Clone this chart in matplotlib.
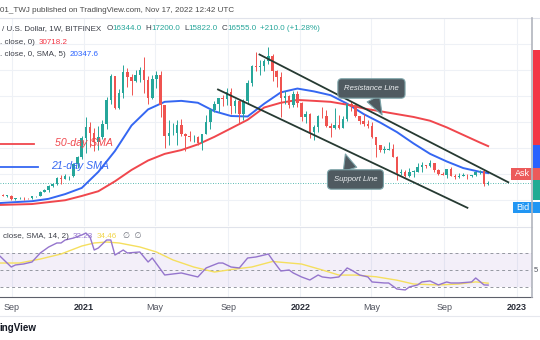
import numpy as np
import pandas as pd
import matplotlib
matplotlib.use("Agg")
import matplotlib.pyplot as plt
import matplotlib.dates as mdates
from matplotlib.patches import Rectangle
from matplotlib.lines import Line2D

plt.rcParams['font.family'] = ['Liberation Sans', 'DejaVu Sans']

# weekly BTC/USD candles, first week starts 2020-08-10
START_WEEK = "2020-08-10"
opens = [11890, 11900, 11650, 11700, 10250, 10670, 10930, 10780, 10670, 11370, 11500, 13030, 13770, 15480, 15980, 18400, 18180, 19170, 19250, 23720, 26450,
         34000, 38200, 35800, 32250, 34250, 39200, 48600, 57500, 45200, 51000, 59200, 57400, 55800, 58100, 60000, 56200, 49100, 56600, 58200, 46400, 34700, 35700, 35800, 39000, 35500, 34700, 34200, 34300, 31800, 35400, 39900, 44600, 47000, 49300, 48800, 51700, 46000, 48200, 42900, 48200, 55000, 61500, 61300, 61500, 63300, 65500, 59700, 57200, 49400, 50100, 46700, 50800,
         47300, 41800, 43100, 36300, 37900, 42400, 42200, 38300, 37700, 38800, 37800, 41300, 46800, 46400, 42200, 40400, 39400, 38500, 34300, 31300, 29400, 29400, 29800, 26600, 20500, 20800, 19300, 20800, 20800, 22600, 23300, 23200, 24300, 21500, 20000, 19800, 21800, 19400, 18800, 19300, 19400, 19200, 19600, 20800, 21200, 16344]
highs = [12090, 12480, 11800, 12090, 10770, 11180, 10990, 10950, 11500, 11720, 13350, 14100, 15960, 16490, 18800, 19480, 19900, 19420, 24250, 26900, 34800,
         41950, 40100, 37800, 38500, 40900, 49700, 58300, 57500, 52600, 61800, 60600, 58400, 60100, 61300, 64900, 57600, 58000, 59600, 59600, 46600, 40800, 39500, 40900, 41300, 35700, 36600, 35100, 34700, 35400, 42600, 45300, 48100, 49400, 50500, 52900, 52900, 48800, 48300, 49000, 56100, 62000, 67000, 63700, 64300, 69000, 66300, 59900, 59200, 51900, 50500, 51900, 52100,
         47500, 44400, 43500, 38900, 42600, 45800, 44700, 39800, 45400, 42600, 42300, 46900, 48200, 47000, 42400, 42900, 40800, 40000, 34300, 31300, 30600, 32200, 31500, 26800, 21800, 21400, 22400, 21600, 24200, 24600, 23600, 25200, 24400, 21800, 20600, 21800, 22700, 19900, 20400, 20500, 19900, 19700, 21100, 21500, 21500, 17200]
lows = [11150, 11380, 11120, 9880, 9880, 10200, 10140, 10370, 10530, 11230, 11420, 12980, 13200, 14850, 15800, 16200, 18100, 17600, 19000, 22300, 25900,
        28200, 30400, 28900, 29200, 33400, 37400, 47100, 44900, 45000, 49300, 53300, 50500, 55500, 55500, 51300, 47000, 48700, 52900, 42000, 30000, 31200, 34900, 31000, 34800, 28800, 32700, 32200, 31100, 29300, 35200, 37500, 43800, 43900, 46300, 46700, 43000, 43500, 39600, 40700, 46900, 53900, 59500, 58000, 59500, 62300, 55700, 53500, 42000, 46900, 45500, 45600, 45700,
        40500, 39600, 34000, 32900, 36200, 41700, 37900, 34300, 37500, 37200, 37600, 40500, 44200, 42100, 39200, 38500, 37700, 33700, 26700, 28600, 28000, 29300, 26600, 17600, 19700, 18700, 19000, 18900, 20700, 20700, 22400, 22700, 20900, 19800, 19600, 18600, 19300, 18100, 18500, 19100, 18200, 18900, 19300, 20100, 15500, 15822]
closes = [11900, 11650, 11700, 10250, 10670, 10930, 10780, 10670, 11370, 11500, 13030, 13770, 15480, 15980, 18400, 18180, 19170, 19250, 23720, 26450, 34000,
          38200, 35800, 32250, 34250, 39200, 48600, 57500, 45200, 51000, 59200, 57400, 55800, 58100, 60000, 56200, 49100, 56600, 58200, 46400, 34700, 35700, 35800, 39000, 35500, 34700, 34200, 34300, 31800, 35400, 39900, 44600, 47000, 49300, 48800, 51700, 46000, 48200, 42900, 48200, 55000, 61500, 61300, 61500, 63300, 65500, 59700, 57200, 49400, 50100, 46700, 50800, 47300,
          41800, 43100, 36300, 37900, 42400, 42200, 38300, 37700, 38800, 37800, 41300, 46800, 46400, 42200, 40400, 39400, 38500, 34300, 31300, 29400, 29400, 29800, 26600, 20500, 20800, 19300, 20800, 20800, 22600, 23300, 23200, 24300, 21500, 20000, 19800, 21800, 19400, 18800, 19300, 19400, 19200, 19600, 20800, 21200, 16344, 16555]
last_price = 16555

# moving averages, at candle indices
sma_weeks = [0, 4, 8, 12, 16, 20, 24, 28, 32, 36, 40, 44, 48, 52, 56, 60, 64, 68, 72, 76, 80, 84, 88, 92, 96, 100, 104, 108, 112, 116, 118]
sma21 = [8800, 9180, 9540, 10450, 12270, 14640, 20830, 28840, 38660, 44850, 47760, 48130, 47400, 44120, 42300, 42120, 47040, 51400, 52860, 51770, 50310, 47040, 43030, 39760, 36120, 31750, 27740, 24830, 22280, 20830, 20348]
sma50 = [8090, 8270, 8450, 9180, 9910, 11550, 13370, 17190, 21560, 25200, 27740, 29200, 31380, 34300, 37570, 40850, 45580, 47400, 48490, 48130, 47760, 46670, 45220, 44120, 43030, 41940, 40480, 37940, 35020, 32110, 30718]

# RSI panel
rsi_weeks = [0, 3, 4, 6, 8, 10, 12, 14, 15, 16, 18, 20, 21, 22, 23, 24, 26, 27, 28, 30, 31, 34, 36, 37, 40, 42, 44, 45, 48, 50, 53, 54, 56, 58, 60, 62, 65, 66, 68, 70, 71, 73, 75, 77, 78, 80, 82, 84, 85, 87, 89, 90, 93, 94, 96, 98, 99, 101, 102, 104, 106, 108, 109, 111, 114, 115, 117, 118]
rsi = [67.6, 53.5, 55.9, 57.1, 59.4, 70, 77, 81.8, 81.8, 85.3, 87.6, 91.2, 93.5, 88.8, 73.5, 75.9, 85.3, 85.3, 67.6, 73.5, 70, 71.2, 59.4, 64.1, 44.1, 45.3, 46.5, 45.3, 41.8, 52.4, 58.2, 58.2, 53.5, 52.4, 64.1, 65.3, 68.8, 61.8, 48.8, 50, 46.5, 41.8, 38.2, 44.1, 41.8, 40.6, 41.8, 52.4, 50, 44.1, 41.8, 35.9, 34.7, 34.7, 27.6, 26.5, 30, 32.4, 35.9, 37.1, 32.4, 35.9, 34.7, 34.7, 35.9, 40.6, 32.4, 32.23]
rsi_ma_weeks = [0, 5, 10, 15, 20, 23, 26, 29, 34, 38, 42, 47, 52, 57, 61, 66, 73, 78, 82, 86, 91, 96, 100, 106, 111, 115, 118]
rsi_ma = [58.2, 58.2, 62.9, 68.8, 78.2, 81.8, 82.9, 81.8, 77.1, 71.2, 61.8, 53.5, 47.6, 51.2, 53.5, 60, 57, 50, 44, 44, 42, 38, 33.5, 32.4, 33.5, 36, 34.46]

# drawn trend lines (date, price)
resist_dates = ["2021-10-24", "2022-12-18"]
resist_prices = [65960, 16820]
support_dates = ["2021-08-15", "2022-10-10"]
support_prices = [52500, 7000]

tick_dates = ["2020-09-01", "2021-01-01", "2021-05-01", "2021-09-01", "2022-01-01", "2022-05-01", "2022-09-01", "2023-01-01"]
tick_labels = ["Sep", "2021", "May", "Sep", "2022", "May", "Sep", "2023"]

UP, DOWN = "#26a69a", "#ef5350"
RED, BLUE = "#f0474d", "#3567f2"
GRID = "#eef1f6"
FS = 5.8
W, H = 540, 340


def fx(px):
    return px / W


def fy(py):
    return 1 - py / H


def seq_text(fig, x, y, parts, size):
    # draw text pieces one after another on a line, pixel coords
    r = fig.canvas.get_renderer()
    for s, c, gap in parts:
        x += gap
        t = fig.text(fx(x), fy(y), s, color=c, fontsize=size, va="center", ha="left")
        x += t.get_window_extent(r).width


def callout(ax, text, tip, center, relpos):
    box = dict(boxstyle="round,pad=0.8,rounding_size=0.5", fc="#4f5a60", ec="#7ea5aa", lw=0.8)
    arrow = dict(arrowstyle="wedge,tail_width=1.8,shrink_factor=0.5", fc="#4f5a60", ec="#7ea5aa",
                 lw=0.8, shrinkA=0, shrinkB=0, relpos=relpos)
    ax.annotate(text, xy=tip, xytext=center, ha="center", va="center", fontsize=5.6,
                style="italic", color="#eceff1", bbox=box, arrowprops=arrow, zorder=6)


def main():
    fig = plt.figure(figsize=(W / 100, H / 100), dpi=100)
    ax = fig.add_axes([0, fy(226), fx(532), (226 - 18) / H])
    axr = fig.add_axes([0, fy(297), fx(532), (297 - 227) / H])

    dates = pd.date_range(START_WEEK, periods=len(closes), freq="7D")
    x = mdates.date2num(dates)
    o, h, l, c = (np.array(v, dtype=float) for v in (opens, highs, lows, closes))
    col = np.where(c >= o, UP, DOWN)
    body = np.maximum(np.abs(c - o), 180)
    ax.vlines(x, l, h, colors=col, lw=0.7, zorder=3)
    ax.bar(x, body, bottom=np.minimum(o, c), width=4.3, color=col, lw=0, zorder=3)

    ax.plot(mdates.date2num(dates[sma_weeks]), sma21, color=BLUE, lw=1.4, zorder=2)
    ax.plot(mdates.date2num(dates[sma_weeks]), sma50, color=RED, lw=1.4, zorder=2)
    ax.axhline(last_price, color=UP, lw=0.6, ls=(0, (1, 2)), zorder=1)

    ax.plot(pd.to_datetime(resist_dates), resist_prices, color="#263a32", lw=1.3, zorder=4)
    ax.plot(pd.to_datetime(support_dates), support_prices, color="#263a32", lw=1.3, zorder=4)

    # SMA labels drawn on the chart
    ax.plot(pd.to_datetime(["2020-08-01", "2020-10-08"]), [31400, 31400], color=RED, lw=1.3)
    ax.text(pd.Timestamp("2020-11-13"), 31800, "50-day SMA", color=RED, fontsize=7.6, style="italic", va="center")
    ax.plot(pd.to_datetime(["2020-08-01", "2020-10-15"]), [22650, 22650], color=BLUE, lw=1.3)
    ax.text(pd.Timestamp("2020-11-07"), 23000, "21-day SMA", color=BLUE, fontsize=7.6, style="italic", va="center")

    callout(ax, "Resistance Line", (pd.Timestamp("2022-05-19"), 42700), (pd.Timestamp("2022-05-01"), 52900), (0.47, 0.0))
    callout(ax, "Support Line", (pd.Timestamp("2022-03-18"), 27700), (pd.Timestamp("2022-04-04"), 17900), (0.42, 1.0))

    xmin, xmax = pd.Timestamp("2020-08-12"), pd.Timestamp("2023-01-27")
    td = pd.to_datetime(tick_dates)
    for a in (ax, axr):
        a.set_xlim(xmin, xmax)
        a.set_xticks(td)
        a.grid(True, color=GRID, lw=0.8)
        a.set_axisbelow(True)
        a.tick_params(length=0, labelleft=False)
        for s in a.spines.values():
            s.set_visible(False)
    ax.set_ylim(1200, 76900)
    ax.set_yticks(np.arange(0, 80001, 10000))
    ax.tick_params(labelbottom=False)

    # RSI
    axr.set_ylim(18.2, 100.6)
    axr.set_yticks([])
    axr.axhspan(30, 70, color="#7e57c2", alpha=0.09, lw=0)
    for lvl in (70, 50, 30):
        axr.axhline(lvl, color="#9598a1", lw=0.7, ls=(0, (3, 3)))
    axr.plot(mdates.date2num(dates[rsi_ma_weeks]), rsi_ma, color="#f5df5e", lw=1.0)
    axr.plot(mdates.date2num(dates[rsi_weeks]), rsi, color="#9575cd", lw=1.0)
    axr.spines["bottom"].set_visible(True)
    axr.spines["bottom"].set_color("#5d606b")
    axr.spines["top"].set_visible(True)
    axr.spines["top"].set_color("#e0e3eb")
    axr.set_xticklabels(tick_labels)
    axr.tick_params(axis="x", pad=4, labelsize=6.5, labelcolor="#50535e")
    for t in axr.get_xticklabels():
        if t.get_text().isdigit():
            t.set_fontweight("bold")
            t.set_color("#2a2e39")

    # frame lines
    fig.add_artist(Line2D([0, 1], [fy(18), fy(18)], color="#e0e3eb", lw=0.8))
    fig.add_artist(Line2D([0, 1], [fy(316), fy(316)], color="#e6e8ee", lw=0.8))
    fig.add_artist(Line2D([fx(532), fx(532)], [fy(18), fy(297)], color="#b2b5be", lw=1.2))

    # price scale labels, mostly cut off at the right edge
    for y0, y1, cc in [(50, 145, "#f23645"), (145, 168, "#2962ff"), (180, 200, "#22ab94")]:
        fig.add_artist(Rectangle((fx(533), fy(y1)), fx(7), (y1 - y0) / H, color=cc, lw=0))
    fig.add_artist(Rectangle((fx(511), fy(180)), fx(29), 12 / H, color="#ec5a5a", lw=0))
    fig.text(fx(515), fy(174), "Ask", color="white", fontsize=6.5, va="center")
    fig.add_artist(Rectangle((fx(513), fy(213)), fx(27), 11 / H, color="#2196f3", lw=0))
    fig.text(fx(516), fy(207.5), "Bid", color="white", fontsize=6.5, va="center")
    fig.text(fx(534), fy(270), "5", color="#50535e", fontsize=5.5, va="center")

    # header / legend texts
    fig.text(fx(0), fy(10), "01_TWJ published on TradingView.com, Nov 17, 2022 12:42 UTC",
             color="#4a4a4a", fontsize=FS, va="center")
    seq_text(fig, 2, 29, [("/ U.S. Dollar, 1W, BITFINEX", "#3c3f48", 0),
                          ("O", "#3c3f48", 5), ("16344.0", UP, 0),
                          ("H", "#3c3f48", 4), ("17200.0", UP, 0),
                          ("L", "#3c3f48", 4), ("15822.0", UP, 0),
                          ("C", "#3c3f48", 4), ("16555.0", UP, 0),
                          ("+210.0 (+1.28%)", UP, 4)], FS)
    seq_text(fig, 0, 42, [(". close, 0)", "#3c3f48", 0), ("30718.2", "#f23645", 4)], FS)
    seq_text(fig, 0, 54, [(". close, 0, SMA, 5)", "#3c3f48", 0), ("20347.6", "#2962ff", 4)], FS)
    seq_text(fig, 3, 236, [("close, SMA, 14, 2)", "#3c3f48", 0), ("32.23", "#9575cd", 4),
                           ("34.46", "#f2d64b", 4), ("\u2205  \u2205", "#6a6d78", 6)], FS)
    fig.text(fx(-1), fy(328), "ingView", color="#131722", fontsize=7, fontweight="bold", va="center")

    fig.savefig("out.png", dpi=100)
    plt.close(fig)


if __name__ == "__main__":
    main()
